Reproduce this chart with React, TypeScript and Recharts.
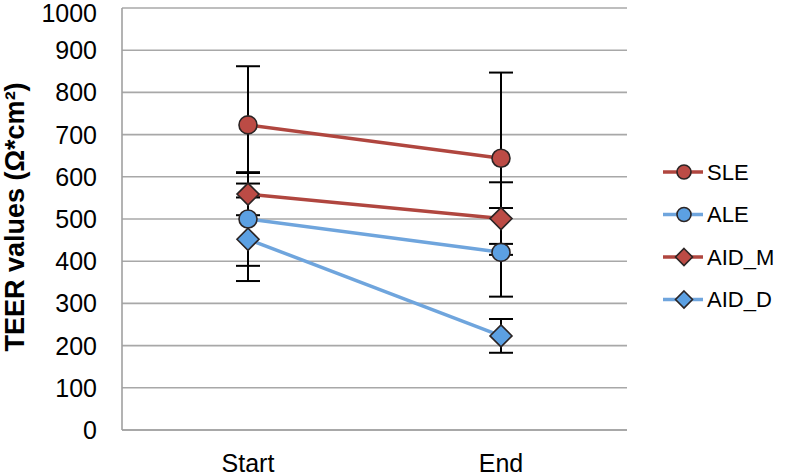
import React from 'react';
import { LineChart, Line, XAxis, YAxis, CartesianGrid, ErrorBar, Legend } from 'recharts';

const categories = ['Start', 'End'];
const sleValues = [723, 644];
const sleErrors = [139, 203];
const aleValues = [500, 421];
const aleErrors = [111, 105];
const aidMValues = [559, 501];
const aidMErrors = [50, 86];
const aidDValues = [452, 223];
const aidDErrors = [99, 40];
const yTicks = [0, 100, 200, 300, 400, 500, 600, 700, 800, 900, 1000];

const RED_LINE = '#B0463F';
const RED_FILL = '#BC4B45';
const BLUE_LINE = '#6FA5DD';
const BLUE_FILL = '#5CA0E2';
const MARKER_STROKE = '#2b2424';
const FONT = '"Liberation Sans", Arial, Helvetica, sans-serif';

const data = categories.map((c, i) => ({
  cat: c,
  SLE: sleValues[i],
  SLE_err: sleErrors[i],
  ALE: aleValues[i],
  ALE_err: aleErrors[i],
  AID_M: aidMValues[i],
  AID_M_err: aidMErrors[i],
  AID_D: aidDValues[i],
  AID_D_err: aidDErrors[i],
}));

const series = [
  { key: 'SLE', line: RED_LINE, fill: RED_FILL, shape: 'circle' },
  { key: 'ALE', line: BLUE_LINE, fill: BLUE_FILL, shape: 'circle' },
  { key: 'AID_M', line: RED_LINE, fill: RED_FILL, shape: 'diamond' },
  { key: 'AID_D', line: BLUE_LINE, fill: BLUE_FILL, shape: 'diamond' },
];

function Marker({ cx, cy, fill, shape, r, d }: any) {
  if (cx == null || cy == null) return null;
  if (shape === 'circle') {
    return <circle cx={cx} cy={cy} r={r} fill={fill} stroke={MARKER_STROKE} strokeWidth={1.6} />;
  }
  const p = `M${cx},${cy - d} L${cx + d},${cy} L${cx},${cy + d} L${cx - d},${cy} Z`;
  return <path d={p} fill={fill} stroke={MARKER_STROKE} strokeWidth={1.6} strokeLinejoin="miter" />;
}

function makeDot(fill: string, shape: string) {
  return (props: any) => (
    <Marker key={`${props.dataKey}-${props.index}`} cx={props.cx} cy={props.cy} fill={fill} shape={shape} r={9} d={11} />
  );
}

function YTick(props: any) {
  const { x, y, payload } = props;
  const dy = payload.value === 1000 ? 5 : 0;
  return (
    <text x={x} y={y + dy} textAnchor="end" dominantBaseline="central" fontSize={25} fontFamily={FONT} fill="#000">
      {payload.value}
    </text>
  );
}

function LegendContent() {
  const gap = 42.5;
  return (
    <svg width={137} height={180} style={{ overflow: 'visible' }}>
      {series.map((s, i) => {
        const y = 22 + i * gap;
        return (
          <g key={s.key}>
            <line x1={8} x2={48} y1={y} y2={y} stroke={s.line} strokeWidth={3.5} />
            <Marker cx={29} cy={y} fill={s.fill} shape={s.shape} r={7} d={8.5} />
            <text x={52} y={y} dominantBaseline="central" fontSize={22} fontFamily={FONT} fill="#000">
              {s.key}
            </text>
          </g>
        );
      })}
    </svg>
  );
}

export default function App() {
  return (
    <div style={{ position: 'absolute', left: 0, top: 0, width: 792, height: 476, background: '#fff' }}>
      <LineChart width={792} height={476} data={data} margin={{ top: 8, right: 165, bottom: 0, left: 0 }}>
        <CartesianGrid vertical={false} stroke="#a8a8a8" strokeWidth={1.6} />
        <XAxis
          dataKey="cat"
          height={46}
          padding={{ left: 126, right: 126 }}
          axisLine={{ stroke: '#a0a0a0', strokeWidth: 1.6 }}
          tickLine={false}
          tickMargin={18}
          tick={{ fontSize: 25, fontFamily: FONT, fill: '#000' }}
          interval={0}
        />
        <YAxis
          width={122}
          domain={[0, 1000]}
          ticks={yTicks}
          interval={0}
          axisLine={{ stroke: '#a0a0a0', strokeWidth: 1.6 }}
          tickLine={false}
          tickMargin={19}
          tick={<YTick />}
          label={{
            content: () => (
              <text
                x={24}
                y={217}
                transform="rotate(-90, 24, 217)"
                textAnchor="middle"
                fontSize={27}
                fontWeight="bold"
                fontFamily={FONT}
                fill="#000"
              >
                TEER values (Ω*cm²)
              </text>
            ),
          }}
        />
        <Legend
          layout="horizontal"
          verticalAlign="middle"
          align="center"
          content={() => <LegendContent />}
          wrapperStyle={{ left: 655, top: 150, width: 137, height: 180 }}
        />
        {series.map((s) => (
          <Line
            key={`line-${s.key}`}
            type="linear"
            dataKey={s.key}
            stroke={s.line}
            strokeWidth={3.5}
            dot={false}
            activeDot={false}
            legendType="none"
            isAnimationActive={false}
          >
            <ErrorBar dataKey={`${s.key}_err`} width={12} stroke="#000" strokeWidth={2} direction="y" />
          </Line>
        ))}
        {series.map((s) => (
          <Line
            key={`dots-${s.key}`}
            type="linear"
            dataKey={s.key}
            stroke="none"
            dot={makeDot(s.fill, s.shape)}
            activeDot={false}
            legendType="none"
            isAnimationActive={false}
          />
        ))}
      </LineChart>
    </div>
  );
}
